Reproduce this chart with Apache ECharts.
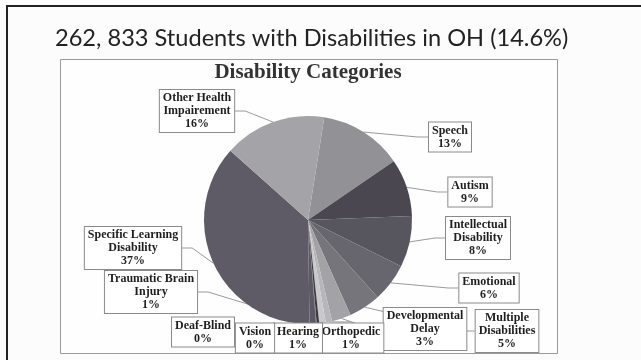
<!DOCTYPE html>
<html><head><meta charset="utf-8">
<script src="https://cdn.jsdelivr.net/npm/echarts@6/dist/echarts.min.js"></script>
<style>html,body{margin:0;padding:0;background:#fcfcfc;}#c{width:641px;height:360px;}</style>
</head><body><div id="c"></div>
<script>
const categories = ['Speech','Autism','Intellectual\nDisability','Emotional','Multiple\nDisabilities','Developmental\nDelay','Orthopedic','Hearing','Vision','Deaf-Blind','Traumatic Brain\nInjury','Specific Learning\nDisability','Other Health\nImpairement'];
const values = [13, 9, 8, 6, 5, 3, 1, 1, 0.4, 0.1, 1, 37, 16];
const shownPct = ['13%','9%','8%','6%','5%','3%','1%','1%','0%','0%','1%','37%','16%'];
const sliceColors = ['#929196','#4a4750','#57555e','#67656d','#77757c','#a3a2a7','#b7b6ba','#c9c8cb','#3e3c42','#6a6870','#5c5964','#5e5a66','#a4a3a8'];
const labelPos = [[450,137],[470,192],[478,238],[489,288],[507,331],[425,329],[351,338],[298,338],[255,338],[203,332],[151,292],[133,248],[197,111]];

const chart = echarts.init(document.getElementById('c'), null, {renderer:'canvas'});
chart.setOption({
  backgroundColor:'#fcfcfc',
  animation:false,
  graphic:[
    {type:'rect', shape:{x:7,y:6,width:700,height:400}, style:{fill:'none',stroke:'#222',lineWidth:2}},
    {type:'rect', shape:{x:60.5,y:59.5,width:497,height:294}, style:{fill:'#fefefe',stroke:'#9a9a9a',lineWidth:1}, z:-1},
    {type:'text', left:55, top:26, style:{text:'262, 833 Students with Disabilities in OH (14.6%)', font:'23.6px Lato', fill:'#222'}},
    {type:'text', x:308, y:62, style:{text:'Disability Categories', font:'bold 21px "Liberation Serif"', fill:'#333', textAlign:'center', textVerticalAlign:'top'}}
  ],
  series:[{
    type:'pie',
    center:[308,220],
    radius:[0,104],
    startAngle:81,
    clockwise:true,
    avoidLabelOverlap:false,
    data: categories.map((n,i)=>({name:n, value:values[i], itemStyle:{color:sliceColors[i]}})),
    label:{
      show:true,
      formatter:(p)=> p.name + '\n' + shownPct[p.dataIndex],
      fontFamily:'Liberation Serif', fontWeight:'bold', fontSize:12, lineHeight:13,
      color:'#1e1e1e', align:'center',
      backgroundColor:'#fff', borderColor:'#8a8a8a', borderWidth:1, padding:[2,3,1,3]
    },
    labelLine:{show:true, length:10, length2:10, lineStyle:{color:'#9a9a9a', width:1}},
    labelLayout:(params)=>{
      const p = labelPos[params.dataIndex];
      return {x:p[0], y:p[1], align:'center', verticalAlign:'middle'};
    }
  }]
});
</script></body></html>
